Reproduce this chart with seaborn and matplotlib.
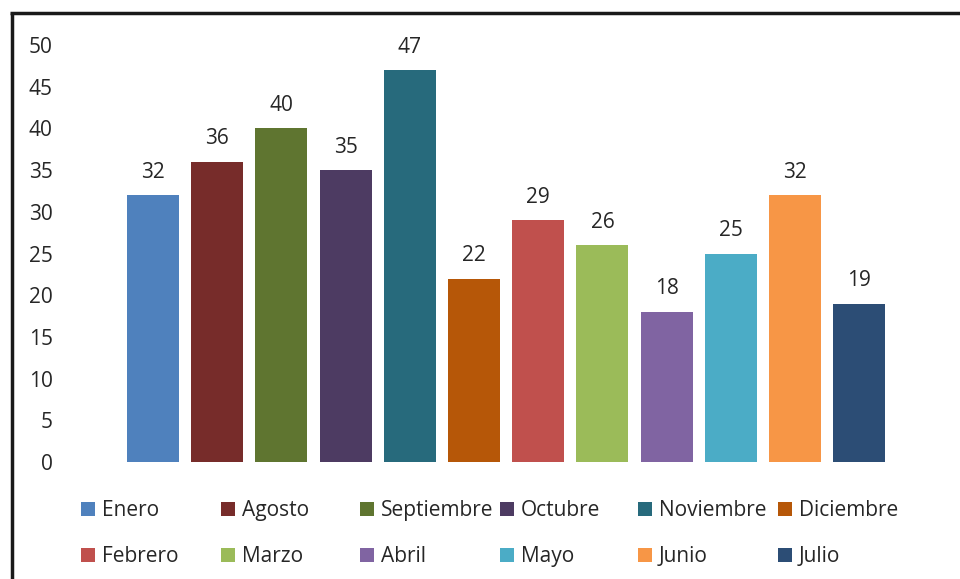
import pandas as pd
import seaborn as sns
import matplotlib.pyplot as plt
from matplotlib.lines import Line2D

months = ["Enero", "Agosto", "Septiembre", "Octubre", "Noviembre", "Diciembre",
          "Febrero", "Marzo", "Abril", "Mayo", "Junio", "Julio"]
values = [32, 36, 40, 35, 47, 22, 29, 26, 18, 25, 32, 19]
colors = ["#4F81BD", "#772C2A", "#5F7530", "#4D3B62", "#276A7C", "#B65708",
          "#C0504D", "#9BBB59", "#8064A2", "#4BACC6", "#F79646", "#2C4D75"]
yticks = list(range(0, 55, 5))

df = pd.DataFrame({"Mes": months, "Valor": values})

sns.set_theme(style="white")
plt.rcParams["font.family"] = ["Open Sans", "DejaVu Sans"]
txt = "#262626"
fs = 15

fig = plt.figure(figsize=(9.6, 5.79), dpi=100)
ax = fig.add_axes([88.8 / 960, 117 / 579, (923.4 - 88.8) / 960, 417 / 579])

sns.barplot(data=df, x="Mes", y="Valor", hue="Mes", palette=colors,
            saturation=1, width=0.81, legend=False, linewidth=0, ax=ax)

for c in ax.containers:
    ax.bar_label(c, padding=9, fontsize=fs, color=txt)

ax.set_xlim(-1, 12)
ax.set_ylim(0, 50)
ax.set_yticks(yticks)
ax.set_xticks([])
ax.set_xlabel("")
ax.set_ylabel("")
ax.tick_params(axis="y", length=0, pad=26, labelsize=fs, labelcolor=txt)
for s in ax.spines.values():
    s.set_visible(False)

# legend: 6 evenly spaced columns, 2 rows each
patches = [c for cont in ax.containers for c in cont]
col_x = [81, 221, 360, 500, 638, 778]
for i, x in enumerate(col_x):
    hs = [patches[i], patches[i + 6]]
    ls = [months[i], months[i + 6]]
    leg = fig.legend(hs, ls, loc="upper left",
                     bbox_to_anchor=(x / 960, 1 - 500 / 579),
                     frameon=False, fontsize=fs, handlelength=0.65,
                     handleheight=0.65, handletextpad=0.35, labelspacing=1.2,
                     borderpad=0, borderaxespad=0)
    for t in leg.get_texts():
        t.set_color(txt)

# frame lines (left and top)
fig.add_artist(Line2D([11.5 / 960, 11.5 / 960], [0, 1 - 12.5 / 579],
                      color="#1a1a1a", lw=2.5, solid_capstyle="butt"))
fig.add_artist(Line2D([10.3 / 960, 1], [1 - 12.5 / 579, 1 - 12.5 / 579],
                      color="#1a1a1a", lw=2.5, solid_capstyle="butt"))

fig.savefig("out.png", dpi=100, facecolor="white")
